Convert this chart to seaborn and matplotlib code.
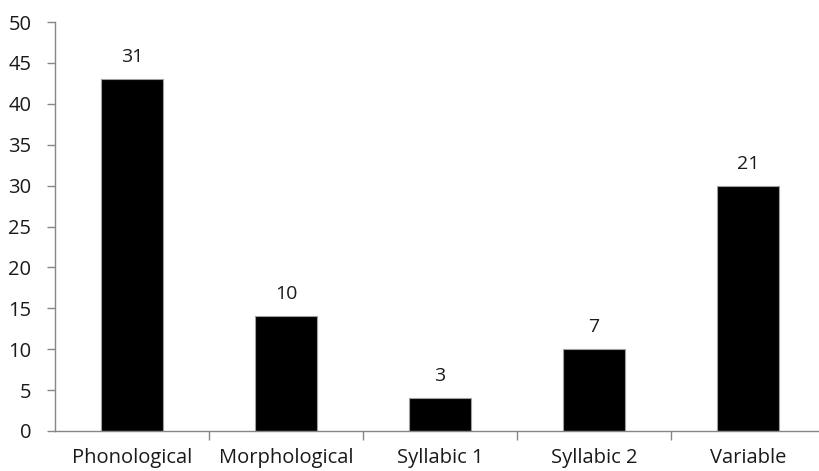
import matplotlib
matplotlib.use("Agg")
import matplotlib.pyplot as plt
import seaborn as sns
import pandas as pd

categories = ["Phonological", "Morphological", "Syllabic 1", "Syllabic 2", "Variable"]
values = [43, 14, 4, 10, 30]
counts = [31, 10, 3, 7, 21]
yticks = [0, 5, 10, 15, 20, 25, 30, 35, 40, 45, 50]

sns.set_theme(style="white")
plt.rcParams['font.family'] = ['Open Sans', 'DejaVu Sans']

df = pd.DataFrame({"category": categories, "value": values})

fig = plt.figure(figsize=(8.19, 4.71), dpi=100)
ax = fig.add_axes([55/819, 40/471, 770/819, 409/471])

sns.barplot(data=df, x="category", y="value", color="black", width=0.4,
            edgecolor="#a0a0a0", linewidth=0.8, saturation=1, ax=ax)

for i, (v, c) in enumerate(zip(values, counts)):
    ax.text(i, v + 1.6, str(c), ha="center", va="bottom", fontsize=14, color="#1a1a1a")

ax.set_xlim(-0.5, 4.5)
ax.set_ylim(0, 50)
ax.set_yticks(yticks)
ax.set_xlabel("")
ax.set_ylabel("")

grey = "#868686"
for s in ["top", "right"]:
    ax.spines[s].set_visible(False)
for s in ["left", "bottom"]:
    ax.spines[s].set_color(grey)
    ax.spines[s].set_linewidth(1.0)

ax.set_xticks([0.5, 1.5, 2.5, 3.5], minor=True)
ax.tick_params(axis="x", which="major", length=0, pad=12, labelsize=14.5, labelcolor="#1a1a1a")
ax.tick_params(axis="x", which="minor", length=6.5, width=1, color=grey, direction="out", bottom=True)
ax.tick_params(axis="y", which="major", length=6, width=1, color=grey, direction="out", left=True,
               pad=11, labelsize=14.5, labelcolor="#1a1a1a")

fig.savefig("out.png", dpi=100)
